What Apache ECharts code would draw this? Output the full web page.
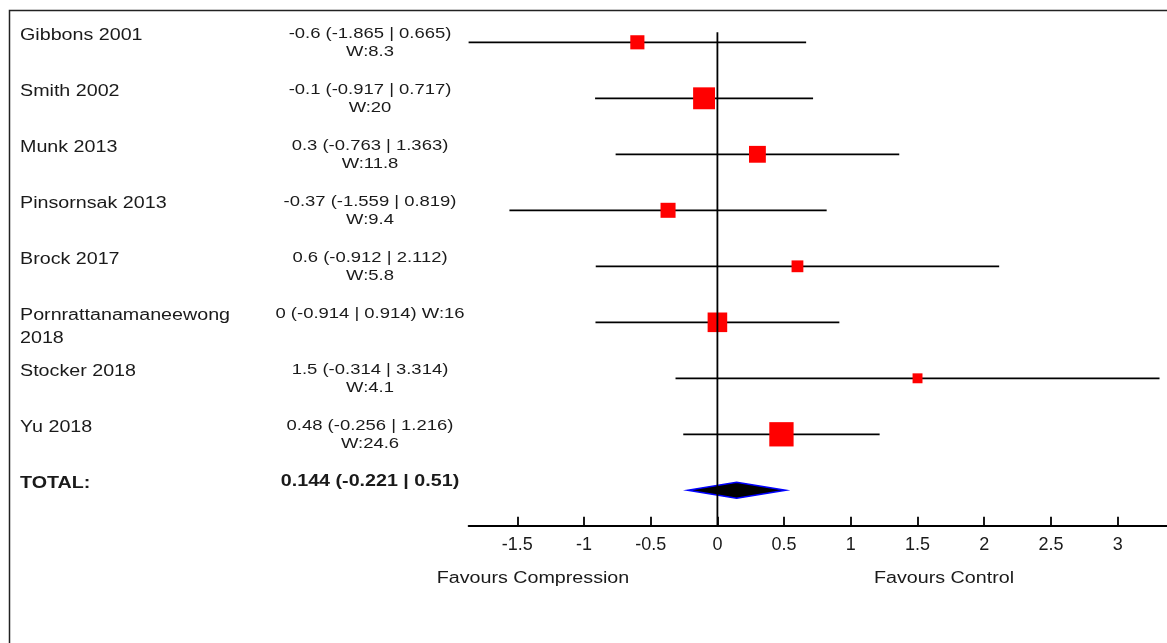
<!DOCTYPE html>
<html>
<head>
<meta charset="utf-8">
<script src="https://cdn.jsdelivr.net/npm/echarts@6/dist/echarts.min.js"></script>
<style>
  html, body { margin: 0; padding: 0; background: #fff; }
  #chart { width: 1167px; height: 643px; }
</style>
</head>
<body>
<div id="chart"></div>
<script>
// Study rows of the forest plot (mean difference, 95% CI, weight)
const studies = ['Gibbons 2001', 'Smith 2002', 'Munk 2013', 'Pinsornsak 2013', 'Brock 2017',
                 'Pornrattanamaneewong 2018', 'Stocker 2018', 'Yu 2018'];
const estimates = [-0.6, -0.1, 0.3, -0.37, 0.6, 0, 1.5, 0.48];
const lowerCI   = [-1.865, -0.917, -0.763, -1.559, -0.912, -0.914, -0.314, -0.256];
const upperCI   = [0.665, 0.717, 1.363, 0.819, 2.112, 0.914, 3.314, 1.216];
const weights   = [8.3, 20, 11.8, 9.4, 5.8, 16, 4.1, 24.6];

// Pooled result
const totalLabel = 'TOTAL:';
const totalEstimate = 0.144;
const totalLower = -0.221;
const totalUpper = 0.51;

// Axis ticks and direction captions
const xTicks = [-1.5, -1, -0.5, 0, 0.5, 1, 1.5, 2, 2.5, 3];
const sideLabels = ['Favours Compression', 'Favours Control'];

// ---- layout ----
const X_MIN = -1.865, X_MAX = 3.37;
const Y_MIN = -0.5, Y_MAX = 8.632;
const ZERO_TOP = -0.18;
const TEXT_STRETCH = 1.23;
const FONT = '"Liberation Sans", Arial, sans-serif';
const LINE_W = 1.8;
const totalRow = studies.length;

const measureCtx = document.createElement('canvas').getContext('2d');
function wrapWords(text, font, maxWidth) {
  measureCtx.font = font;
  const words = text.split(' ');
  const lines = [];
  let line = '';
  for (const w of words) {
    const trial = line ? line + ' ' + w : w;
    if (line && measureCtx.measureText(trial).width > maxWidth) {
      lines.push(line);
      line = w;
    } else {
      line = trial;
    }
  }
  lines.push(line);
  return lines.join('\n');
}

const nameFont = '16px ' + FONT;
const nameBold = 'bold 16px ' + FONT;
const statFont = '15px ' + FONT;
const statBold = 'bold 16px ' + FONT;

// text rows: name + statistic summary
const labelRows = studies.map((s, i) => ({
  name: wrapWords(s, nameFont, 195),
  stat: wrapWords(`${estimates[i]} (${lowerCI[i]} | ${upperCI[i]}) W:${weights[i]}`, statFont, 162),
  bold: false
}));
labelRows.push({
  name: totalLabel,
  stat: `${totalEstimate} (${totalLower} | ${totalUpper})`,
  bold: true
});

const squareData = estimates.map((e, i) => [e, i, weights[i]]);
const ciData = studies.map((s, i) => [lowerCI[i], upperCI[i], i]);
const diamondData = [[totalLower, totalEstimate, totalUpper, totalRow]];
const labelData = labelRows.map((r, i) => [0, i]);
const zeroLineData = [[0, ZERO_TOP, Y_MAX]];

function textEl(x, y, text, font, align, lineHeight, fill) {
  return {
    type: 'text',
    x: x, y: y,
    scaleX: TEXT_STRETCH,
    style: {
      text: text, x: 0, y: 0,
      font: font, fill: fill,
      textAlign: align, align: align,
      textVerticalAlign: 'top', verticalAlign: 'top',
      lineHeight: lineHeight
    }
  };
}

const chart = echarts.init(document.getElementById('chart'), null, { renderer: 'canvas' });

chart.setOption({
  animation: false,
  backgroundColor: '#fff',
  grid: { left: 468.6, right: 0, top: 14.3, bottom: 117.3, containLabel: false },
  xAxis: {
    type: 'value',
    min: X_MIN, max: X_MAX,
    axisLine: { show: true, onZero: false, lineStyle: { color: '#000', width: LINE_W } },
    axisTick: { show: true, inside: true, length: 9, customValues: xTicks,
                lineStyle: { color: '#000', width: LINE_W } },
    axisLabel: { show: true, customValues: xTicks, color: '#1a1a1a', fontFamily: FONT,
                 fontSize: 18, margin: 10, formatter: v => String(v) },
    splitLine: { show: false }
  },
  yAxis: { type: 'value', inverse: true, min: Y_MIN, max: Y_MAX, show: false },
  series: [
    {
      // study weights as red squares
      type: 'scatter',
      data: squareData,
      symbol: 'rect',
      symbolSize: v => Math.sqrt(v[2]) * 4.9,
      itemStyle: { color: '#ff0000', opacity: 1 },
      emphasis: { disabled: true },
      silent: true
    },
    {
      // confidence intervals
      type: 'custom',
      data: ciData,
      silent: true,
      renderItem: (params, api) => {
        const a = api.coord([api.value(0), api.value(2)]);
        const b = api.coord([api.value(1), api.value(2)]);
        return { type: 'line', shape: { x1: a[0], y1: a[1], x2: b[0], y2: b[1] },
                 style: { stroke: '#000', lineWidth: LINE_W } };
      }
    },
    {
      // pooled estimate diamond
      type: 'custom',
      data: diamondData,
      silent: true,
      renderItem: (params, api) => {
        const row = api.value(3);
        const l = api.coord([api.value(0), row]);
        const c = api.coord([api.value(1), row]);
        const r = api.coord([api.value(2), row]);
        const h = 8;
        return { type: 'polygon',
                 shape: { points: [[l[0], l[1]], [c[0], c[1] - h], [r[0], r[1]], [c[0], c[1] + h]] },
                 style: { fill: '#000', stroke: '#0000ff', lineWidth: 1.6 } };
      }
    },
    {
      // line of no effect
      type: 'custom',
      data: zeroLineData,
      silent: true,
      clip: false,
      z: 5,
      renderItem: (params, api) => {
        const a = api.coord([api.value(0), api.value(1)]);
        const b = api.coord([api.value(0), api.value(2)]);
        return { type: 'line', shape: { x1: a[0], y1: a[1], x2: b[0], y2: b[1] },
                 style: { stroke: '#000', lineWidth: LINE_W } };
      }
    },
    {
      // study names and summaries
      type: 'custom',
      data: labelData,
      silent: true,
      clip: false,
      renderItem: (params, api) => {
        const row = labelRows[params.dataIndex];
        const y = api.coord([0, api.value(1)])[1];
        return {
          type: 'group',
          children: [
            textEl(20, y - 18, row.name, row.bold ? nameBold : nameFont, 'left', 23, '#1a1a1a'),
            textEl(370, y - 17.5, row.stat, row.bold ? statBold : statFont, 'center', 18, '#1a1a1a')
          ]
        };
      }
    }
  ],
  graphic: [
    {
      type: 'rect', silent: true, z: -10,
      shape: { x: 9.5, y: 10.5, width: 1400, height: 900 },
      style: { fill: 'none', stroke: '#222', lineWidth: 1.5 }
    },
    {
      type: 'text', x: 533, y: 579, scaleX: TEXT_STRETCH, silent: true,
      style: { text: sideLabels[0], x: 0, y: 0, font: nameFont, fill: '#1a1a1a',
               textAlign: 'center', align: 'center',
               textVerticalAlign: 'middle', verticalAlign: 'middle' }
    },
    {
      type: 'text', x: 944, y: 579, scaleX: TEXT_STRETCH, silent: true,
      style: { text: sideLabels[1], x: 0, y: 0, font: nameFont, fill: '#1a1a1a',
               textAlign: 'center', align: 'center',
               textVerticalAlign: 'middle', verticalAlign: 'middle' }
    }
  ]
});
</script>
</body>
</html>
